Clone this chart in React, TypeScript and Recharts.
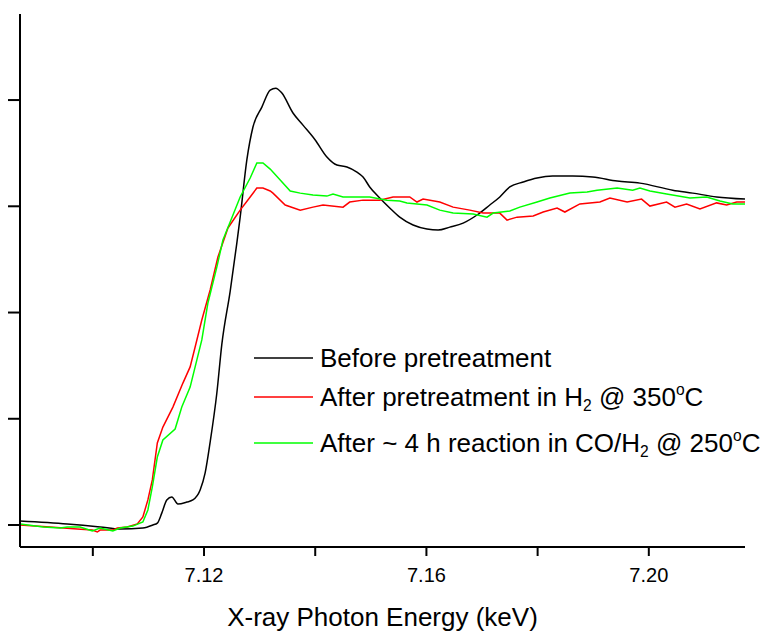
import React from "react";
import { Legend, Line, LineChart, XAxis, YAxis, Label } from "recharts";

// energies in keV, normalized absorption (arbitrary units)
const beforeEnergy = [
  7.0869, 7.0954, 7.1013, 7.1049, 7.109, 7.1108, 7.1116, 7.1124, 7.1133, 7.1142, 7.1153, 7.1169, 7.118,
  7.1193, 7.1202, 7.1211, 7.1223, 7.1232, 7.1247, 7.1259, 7.1265, 7.1277, 7.1288, 7.1304, 7.1319, 7.1329,
  7.134, 7.136, 7.1378, 7.14, 7.1421, 7.1439, 7.1457, 7.1475, 7.1486, 7.1498, 7.1516, 7.1534, 7.1552,
  7.1576, 7.1601, 7.1621, 7.1642, 7.1666, 7.1691, 7.1714, 7.1732, 7.175, 7.1774, 7.1799, 7.1827, 7.1863,
  7.1899, 7.1943, 7.1984, 7.2043, 7.2079, 7.2122, 7.2173,
];
const beforeMu = [
  0.019, 0.005, -0.009, -0.019, -0.014, 0.0, 0.009, 0.056, 0.118, 0.132, 0.099, 0.108, 0.118,
  0.165, 0.245, 0.39, 0.62, 0.85, 1.1, 1.327, 1.449, 1.718, 1.873, 1.967, 2.047, 2.056,
  2.033, 1.939, 1.882, 1.812, 1.732, 1.694, 1.685, 1.661, 1.638, 1.591, 1.539, 1.492, 1.449,
  1.412, 1.393, 1.388, 1.402, 1.421, 1.459, 1.506, 1.544, 1.591, 1.614, 1.633, 1.642, 1.642,
  1.638, 1.619, 1.609, 1.576, 1.562, 1.544, 1.534,
];

const h2Energy = [
  7.0869, 7.0923, 7.0972, 7.0999, 7.1008, 7.1013, 7.1036, 7.1044, 7.1062, 7.108, 7.109, 7.1099, 7.1107,
  7.1116, 7.1126, 7.1144, 7.1162, 7.1175, 7.1184, 7.1196, 7.1211, 7.1225, 7.1243, 7.1265, 7.1283, 7.1295,
  7.1306, 7.1319, 7.1324, 7.1346, 7.1373, 7.1396, 7.1414, 7.145, 7.1462, 7.1486, 7.1516, 7.154, 7.157,
  7.1583, 7.1594, 7.1624, 7.1648, 7.1678, 7.1702, 7.1732, 7.1745, 7.1763, 7.1792, 7.181, 7.1835, 7.1849,
  7.1876, 7.1912, 7.193, 7.1961, 7.1987, 7.2002, 7.2032, 7.2047, 7.2068, 7.2092, 7.2122, 7.214, 7.2158,
  7.2173,
];
const h2Mu = [
  0.0, -0.009, -0.019, -0.024, -0.033, -0.024, -0.024, -0.014, -0.009, 0.005, 0.038, 0.118, 0.212,
  0.386, 0.461, 0.555, 0.668, 0.744, 0.838, 0.965, 1.106, 1.261, 1.398, 1.482, 1.544, 1.586,
  1.586, 1.572, 1.562, 1.506, 1.482, 1.496, 1.506, 1.496, 1.52, 1.529, 1.529, 1.544, 1.544,
  1.52, 1.534, 1.52, 1.496, 1.482, 1.468, 1.468, 1.435, 1.449, 1.454, 1.473, 1.492, 1.473,
  1.511, 1.52, 1.539, 1.52, 1.534, 1.501, 1.52, 1.496, 1.511, 1.487, 1.516, 1.506, 1.52,
  1.52,
];

const coEnergy = [
  7.0869, 7.0911, 7.0941, 7.0954, 7.0977, 7.0999, 7.1013, 7.1036, 7.1049, 7.1072, 7.109, 7.1099, 7.1107,
  7.1116, 7.1126, 7.1148, 7.116, 7.1175, 7.1184, 7.1196, 7.1207, 7.1223, 7.1234, 7.1247, 7.1265, 7.1283,
  7.1295, 7.1306, 7.1319, 7.1337, 7.1355, 7.1373, 7.1396, 7.1421, 7.1432, 7.145, 7.1475, 7.1498, 7.1529,
  7.1552, 7.1565, 7.1601, 7.1624, 7.1648, 7.1684, 7.1709, 7.172, 7.175, 7.1768, 7.1799, 7.1822, 7.1858,
  7.1889, 7.1907, 7.1943, 7.1971, 7.1984, 7.2002, 7.2032, 7.2074, 7.2104, 7.2128, 7.2151, 7.2173,
];
const coMu = [
  0.005, -0.009, -0.014, -0.009, -0.009, -0.028, -0.014, -0.028, -0.014, -0.005, 0.014, 0.071, 0.179,
  0.32, 0.4, 0.452, 0.555, 0.649, 0.744, 0.871, 1.045, 1.214, 1.341, 1.426, 1.544, 1.633,
  1.704, 1.704, 1.675, 1.624, 1.572, 1.562, 1.553, 1.548, 1.558, 1.544, 1.544, 1.544, 1.529,
  1.525, 1.516, 1.506, 1.482, 1.468, 1.464, 1.449, 1.468, 1.478, 1.496, 1.52, 1.539, 1.562,
  1.567, 1.576, 1.586, 1.576, 1.586, 1.572, 1.558, 1.539, 1.544, 1.525, 1.511, 1.511,
];

const xTicks = [7.1, 7.12, 7.14, 7.16, 7.18, 7.2];
const xLabelled = [7.12, 7.16, 7.2];
const yTicks = [0, 0.5, 1, 1.5, 2];

const zip = (e: number[], m: number[]) => e.map((energy, i) => ({ energy, mu: m[i] }));

const series = [
  { key: "before", color: "#000000", curve: "monotone" as const, data: zip(beforeEnergy, beforeMu) },
  { key: "h2", color: "#ff0000", curve: "linear" as const, data: zip(h2Energy, h2Mu) },
  { key: "co", color: "#00ff00", curve: "linear" as const, data: zip(coEnergy, coMu) },
];

const font = "'Liberation Sans', Arial, Helvetica, sans-serif";
const sup = { fontSize: "60%", position: "relative" as const, top: "-0.7em" };
const sub = { fontSize: "60%", position: "relative" as const, top: "0.3em" };

const legendLabels = [
  <>Before pretreatment</>,
  <>
    After pretreatment in H<span style={sub}>2</span> @ 350<span style={sup}>o</span>C
  </>,
  <>
    After ~ 4 h reaction in CO/H<span style={sub}>2</span> @ 250<span style={sup}>o</span>C
  </>,
];
const legendRowTop = [0, 39, 85];

function LegendBox() {
  return (
    <div style={{ position: "relative", width: 500, height: 130, fontFamily: font, fontSize: 26 }}>
      {series.map((s, i) => (
        <div
          key={s.key}
          style={{ position: "absolute", left: 0, top: legendRowTop[i], height: 36, display: "flex", alignItems: "center", whiteSpace: "nowrap", lineHeight: 1 }}
        >
          <svg width={60} height={4} style={{ marginRight: 6 }}>
            <line x1={0} y1={2} x2={59} y2={2} stroke={s.color} strokeWidth={1.5} />
          </svg>
          <span>{legendLabels[i]}</span>
        </div>
      ))}
    </div>
  );
}

export default function App() {
  return (
    <div style={{ position: "absolute", left: 0, top: 0, width: 769, height: 631, background: "#fff" }}>
      <LineChart width={769} height={631} margin={{ top: 14, right: 24, left: 6, bottom: 0 }}>
        <XAxis
          type="number"
          dataKey="energy"
          domain={[7.0869, 7.2173]}
          ticks={xTicks}
          allowDataOverflow
          height={84}
          tickSize={9}
          tickMargin={12}
          tickFormatter={(v: number) => (xLabelled.some((t) => Math.abs(t - v) < 1e-6) ? v.toFixed(2) : "")}
          tick={{ fill: "#000", fontSize: 20, fontFamily: font }}
          axisLine={{ stroke: "#000", strokeWidth: 2 }}
          tickLine={{ stroke: "#000", strokeWidth: 2 }}
        >
          <Label
            value="X-ray Photon Energy (keV)"
            position="insideBottom"
            offset={5}
            style={{ fill: "#000", fontSize: 26, fontFamily: font }}
          />
        </XAxis>
        <YAxis
          type="number"
          domain={[-0.1035, 2.405]}
          ticks={yTicks}
          allowDataOverflow
          width={14}
          tickSize={12}
          tickFormatter={() => ""}
          axisLine={{ stroke: "#000", strokeWidth: 2 }}
          tickLine={{ stroke: "#000", strokeWidth: 2 }}
        />
        {series.map((s) => (
          <Line
            key={s.key}
            data={s.data}
            dataKey="mu"
            type={s.curve}
            stroke={s.color}
            strokeWidth={1.5}
            dot={false}
            isAnimationActive={false}
          />
        ))}
        <Legend
          layout="vertical"
          align="center"
          verticalAlign="middle"
          content={() => <LegendBox />}
          wrapperStyle={{ left: 254, top: 340, width: 500 }}
        />
      </LineChart>
    </div>
  );
}
